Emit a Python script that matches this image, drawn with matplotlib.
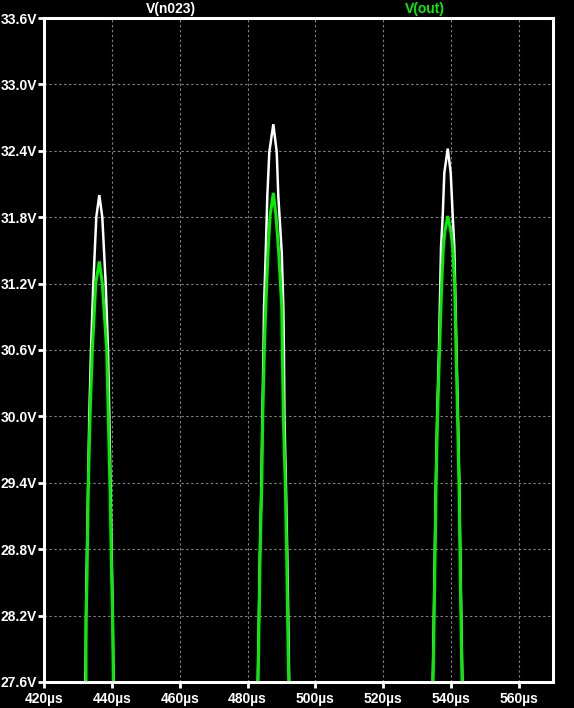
import matplotlib
matplotlib.use('Agg')
import matplotlib.pyplot as plt
import numpy as np

plt.rcParams['font.family'] = ['Liberation Sans', 'DejaVu Sans']

# time in us, voltage in V
t_n023_1 = [432.2, 432.5, 433.35, 433.85, 434.53, 435.41, 436.30, 437.18, 438.18, 438.86, 439.25, 440.1, 440.5]
v_n023_1 = [27.60, 28.50, 30.00, 30.60, 31.20, 31.80, 32.00, 31.80, 31.20, 30.60, 30.00, 28.50, 27.60]
t_out_1 = [432.38, 432.38, 432.67, 433.0, 433.56, 434.24, 435.24, 436.30, 437.18, 438.48, 438.95, 439.5, 439.95, 440.25, 440.42]
v_out_1 = [27.60, 28.16, 28.52, 29.30, 30.00, 30.60, 31.20, 31.40, 31.20, 30.60, 30.00, 29.30, 28.52, 28.16, 27.60]

t_n023_2 = [483.0, 483.3, 483.6, 484.05, 484.35, 484.69, 484.84, 485.34, 485.81, 486.40, 487.58,
            488.58, 489.05, 490.06, 490.53, 490.7, 490.85, 491.3, 491.7, 492.0, 492.25]
v_n023_2 = [27.60, 28.13, 28.73, 29.37, 30.00, 30.60, 30.99, 31.48, 31.99, 32.39, 32.64,
            32.39, 31.99, 31.48, 30.99, 30.60, 30.00, 29.37, 28.73, 28.13, 27.60]
t_out_2 = [483.07, 483.36, 483.66, 484.16, 484.46, 484.93, 485.34, 486.02, 486.60, 487.58,
           488.38, 489.17, 490.06, 490.23, 490.53, 491.12, 491.53, 491.82, 492.12]
v_out_2 = [27.60, 28.13, 28.73, 29.37, 30.00, 30.60, 30.99, 31.48, 31.81, 32.02,
           31.81, 31.48, 30.99, 30.60, 30.00, 29.37, 28.73, 28.13, 27.60]

t_n023_3 = [534.55, 534.85, 535.15, 535.45, 535.85, 536.4, 537.0, 537.50, 537.97, 538.98,
            539.86, 540.45, 540.92, 541.55, 542.0, 542.4, 542.7, 543.0, 543.3]
v_n023_3 = [27.60, 28.13, 28.73, 29.37, 30.00, 30.60, 31.53, 31.81, 32.20, 32.42,
            32.20, 31.81, 31.53, 30.60, 30.00, 29.37, 28.73, 28.13, 27.60]
t_out_3 = [534.65, 534.94, 535.24, 535.53, 535.97, 536.56, 537.2, 537.68, 538.18, 538.98,
           539.86, 540.45, 541.0, 541.43, 541.87, 542.31, 542.60, 542.90, 543.19]
v_out_3 = [27.60, 28.13, 28.73, 29.37, 30.00, 30.60, 31.20, 31.53, 31.68, 31.81,
           31.68, 31.53, 31.20, 30.60, 30.00, 29.37, 28.73, 28.13, 27.60]

x_ticks = [420, 440, 460, 480, 500, 520, 540, 560]
y_ticks = [27.6, 28.2, 28.8, 29.4, 30.0, 30.6, 31.2, 31.8, 32.4, 33.0, 33.6]

green = '#00f000'

fig = plt.figure(figsize=(5.74, 7.08), dpi=100, facecolor='black')
ax = fig.add_axes([44/574, 26/708, 509/574, 664/708], facecolor='black')

for t, v in [(t_n023_1, v_n023_1), (t_n023_2, v_n023_2), (t_n023_3, v_n023_3)]:
    ax.plot(t, v, color='white', linewidth=1.8, solid_joinstyle='miter')
for t, v in [(t_out_1, v_out_1), (t_out_2, v_out_2), (t_out_3, v_out_3)]:
    ax.plot(t, v, color=green, linewidth=2.2, solid_joinstyle='miter')

ax.set_xlim(420, 570)
ax.set_ylim(27.6, 33.6)
ax.set_xticks(x_ticks)
ax.set_yticks(y_ticks)
ax.set_xticklabels(['%dµs' % x for x in x_ticks])
ax.set_yticklabels(['%.1fV' % y for y in y_ticks])
ax.grid(True, color='#808080', linestyle=(0, (2.2, 2.2)), linewidth=0.8)
ax.set_axisbelow(True)

for s in ax.spines.values():
    s.set_color('white')
    s.set_linewidth(2.2)
ax.tick_params(colors='white', length=4, width=2, labelsize=10)
ax.tick_params(axis='x', pad=3)
ax.tick_params(axis='y', pad=1)
for lab in ax.get_xticklabels() + ax.get_yticklabels():
    lab.set_fontweight('bold')

fig.text(171/574, 1 - 9/708, 'V(n023)', color='white', fontsize=10, fontweight='bold',
         ha='center', va='center')
fig.text(425/574, 1 - 9/708, 'V(out)', color=green, fontsize=10, fontweight='bold',
         ha='center', va='center')

fig.savefig('out.png', dpi=100, facecolor='black')
